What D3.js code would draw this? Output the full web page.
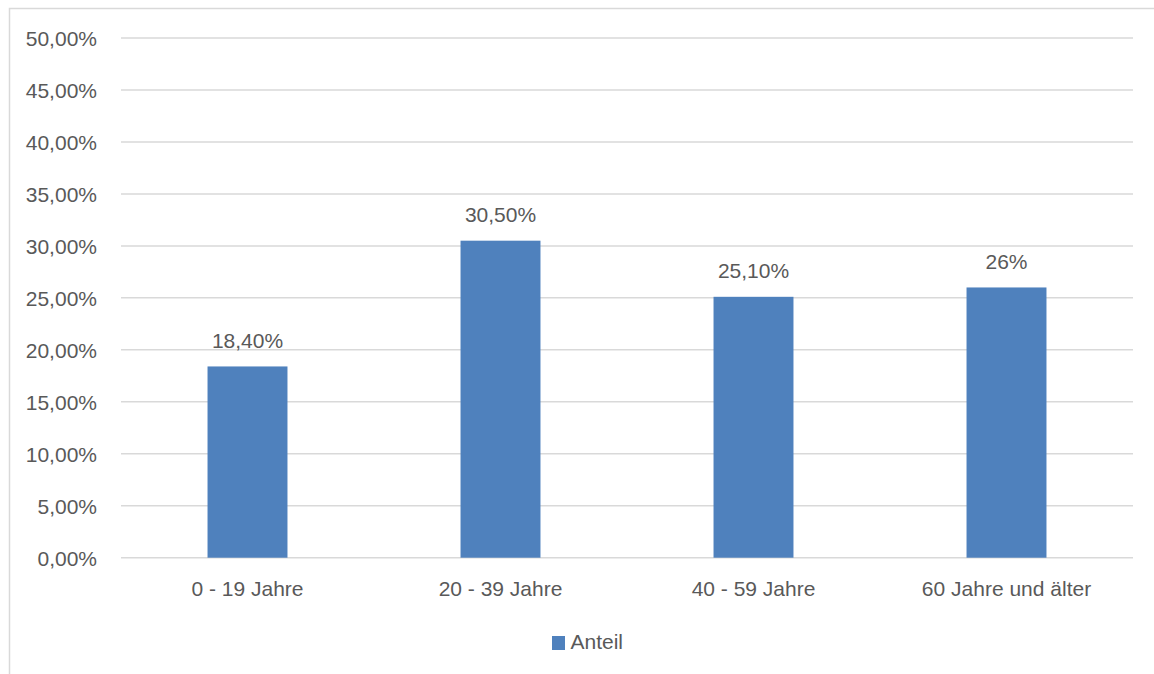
<!DOCTYPE html>
<html>
<head>
<meta charset="utf-8">
<script src="https://cdn.jsdelivr.net/npm/d3@7"></script>
<style>
  html, body { margin: 0; padding: 0; background: #fff; }
  svg { display: block; }
  text { font-family: "Liberation Sans", Arial, sans-serif; fill: #595959; }
</style>
</head>
<body>
<svg id="chart" width="1154" height="674"></svg>
<script>
// Age groups and their share
const categories = ["0 - 19 Jahre", "20 - 39 Jahre", "40 - 59 Jahre", "60 Jahre und älter"];
const values = [18.4, 30.5, 25.1, 26];
const valueLabels = ["18,40%", "30,50%", "25,10%", "26%"];
const yTicks = [0, 5, 10, 15, 20, 25, 30, 35, 40, 45, 50];
const yTickLabels = ["0,00%", "5,00%", "10,00%", "15,00%", "20,00%", "25,00%", "30,00%", "35,00%", "40,00%", "45,00%", "50,00%"];
const seriesName = "Anteil";

const svg = d3.select("#chart");
const W = 1154, H = 674;
const plot = { left: 121, right: 1133, top: 38, bottom: 557.7 };
const barColor = "#4F81BD";
const gridColor = "#d9d9d9";
const fontSize = 21;

// Outer chart frame
svg.append("rect")
  .attr("x", 9.5).attr("y", 8.5)
  .attr("width", W + 10).attr("height", H + 10)
  .attr("fill", "none").attr("stroke", gridColor).attr("stroke-width", 1.5);

const x = d3.scaleBand().domain(categories).range([plot.left, plot.right]).paddingInner(0.684).paddingOuter(0.342);
const y = d3.scaleLinear().domain([0, 50]).range([plot.bottom, plot.top]);

// Horizontal grid lines
svg.append("g").selectAll("line").data(yTicks).join("line")
  .attr("x1", plot.left).attr("x2", plot.right)
  .attr("y1", d => y(d)).attr("y2", d => y(d))
  .attr("stroke", gridColor).attr("stroke-width", 1.5);

// Y axis tick labels
const yAxis = d3.axisLeft(y).tickValues(yTicks)
  .tickFormat((d, i) => yTickLabels[i]).tickSize(0).tickPadding(0);
const gy = svg.append("g").attr("transform", "translate(97,0)").call(yAxis);
gy.select(".domain").remove();
gy.selectAll("text").attr("font-size", fontSize).attr("fill", "#595959")
  .attr("font-family", "'Liberation Sans', Arial, sans-serif").attr("dy", "0.35em");

// Bars
svg.append("g").selectAll("rect").data(values).join("rect")
  .attr("x", (d, i) => x(categories[i]))
  .attr("width", x.bandwidth())
  .attr("y", d => y(d))
  .attr("height", d => y(0) - y(d))
  .attr("fill", barColor);

// Value labels
svg.append("g").selectAll("text").data(values).join("text")
  .attr("x", (d, i) => x(categories[i]) + x.bandwidth() / 2)
  .attr("y", d => y(d) - 18.5)
  .attr("text-anchor", "middle")
  .attr("font-size", fontSize)
  .text((d, i) => valueLabels[i]);

// X axis category labels
const xAxis = d3.axisBottom(x).tickSize(0).tickPadding(0);
const gx = svg.append("g").attr("transform", "translate(0,581)").call(xAxis);
gx.select(".domain").remove();
gx.selectAll("text").attr("font-size", fontSize).attr("fill", "#595959")
  .attr("font-family", "'Liberation Sans', Arial, sans-serif").attr("dy", "0.71em");

// Legend
const legend = svg.append("g");
legend.append("rect").attr("x", 552).attr("y", 636).attr("width", 13).attr("height", 14).attr("fill", barColor);
legend.append("text").attr("x", 570.5).attr("y", 649).attr("font-size", fontSize).text(seriesName);
</script>
</body>
</html>
